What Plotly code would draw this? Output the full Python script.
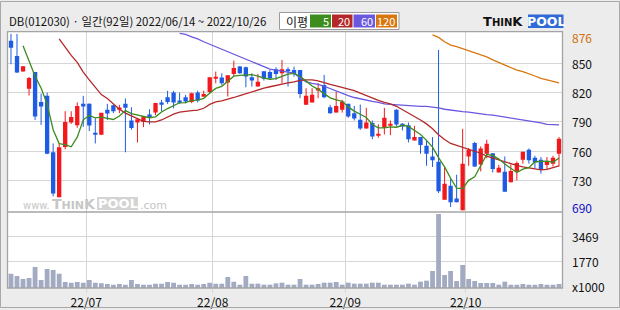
import pandas as pd
import plotly.graph_objects as go

# ---------------- data ----------------
title_text = "DB(012030) · 일간(92일) 2022/06/14 ~ 2022/10/26"
holidays = ["2022-08-15", "2022-09-09", "2022-09-12", "2022-10-03", "2022-10-10"]
dates = [d for d in pd.bdate_range("2022-06-14", "2022-10-26") if d.strftime("%Y-%m-%d") not in holidays]

open_ = [873, 857.5, 841.5, 824, 841, 810.5, 816.7, 759, 713, 764.3,
         789.4, 786.7, 808.5, 808.5, 779, 777, 802.4, 807, 803.4, 808.5,
         791.5, 789.4, 790, 797.6, 799.6, 810, 815.3, 820, 811.9, 815.3,
         810.5, 820, 816.7, 820.7, 835, 835.4, 830.3, 839, 846.6, 845.9,
         835.7, 826.2, 841.8, 841.1, 843.9, 839.8, 843.9, 843.2, 843.2, 807.5,
         809.9, 822.1, 827.9, 805.1, 799.6, 802.4, 808.5, 799, 792.2, 783.3,
         788.8, 775.8, 784, 786, 802.4, 788.1, 786.7, 771.1, 774.5, 765.6,
         754.7, 749.3, 710.5, 724.8, 711.6, 699.6, 754.7, 768.4, 746.6, 757.5,
         758.1, 738.4, 739.1, 728.2, 739.1, 751.3, 761.6, 753.4, 751.3, 745.9,
         747.3, 757.5]
high_ = [880, 880, 847, 836, 841, 819, 820, 768, 768, 801,
         801, 810, 816.7, 809, 794, 799.3, 808.5, 807.8, 807.5, 814,
         805, 792.8, 796, 803, 809.5, 812.6, 821.8, 821.8, 820, 817.7,
         820, 822, 822, 835.7, 841.5, 839.8, 837.7, 852.7, 847.3, 846.6,
         839.8, 839.1, 841.8, 843.2, 845.9, 853.4, 845.9, 846.6, 843.2, 824.5,
         824.5, 829.6, 838.1, 807.5, 821.1, 812.6, 808.5, 806.4, 807.8, 804.4,
         791.5, 787.7, 804.4, 791.5, 803, 788.8, 789.4, 786, 774.5, 771.8,
         774.5, 863.6, 743.9, 732.6, 736, 783, 763.3, 769.7, 765, 771.8,
         758.1, 746.2, 754.7, 746.6, 749.6, 759.5, 762.9, 755.4, 754.1, 754.1,
         755.4, 774.5]
low_ = [849, 840, 841.5, 817, 792, 787, 757, 714, 713, 762,
        788, 784, 785, 780.6, 768, 777, 792, 799, 799, 759,
        782, 769, 784.7, 787.4, 797, 800.7, 808.5, 804, 808.5, 809,
        809.2, 809.9, 816.7, 819.4, 829.6, 827.5, 816, 837, 839, 825.5,
        826.2, 826.2, 832.3, 833, 833, 829.6, 826.2, 836.4, 814.3, 807.5,
        809.9, 814.3, 814.3, 798.3, 799.6, 799.6, 794.2, 791.5, 782, 783.3,
        772.4, 773.8, 777.2, 776.5, 785.4, 781.3, 769, 771.1, 757.5, 745.2,
        743.9, 717.3, 710.5, 703, 707.8, 699.6, 745.2, 743.9, 739.4, 752.7,
        738.4, 738.4, 718.7, 728.2, 730.3, 747.3, 747.3, 742.5, 737.1, 741.1,
        744.5, 744.5]
close_ = [866, 840.5, 847, 835, 795.6, 805.8, 757.5, 716.7, 764, 790,
          795, 806.4, 805.8, 786.4, 777, 799.3, 798.6, 801, 804.7, 804.4,
          783.7, 792.8, 795.6, 795, 809.5, 808, 810.5, 809.9, 809.9, 810.9,
          819.4, 811.9, 818.7, 835.7, 836, 829.6, 837.7, 845.2, 839.8, 836.4,
          832.3, 831, 834.3, 834.7, 839.1, 843.9, 841.8, 839.1, 818.7, 816.7,
          817.7, 824.5, 815.3, 799, 806.4, 810.9, 795.6, 793.5, 783.3, 789.4,
          775.2, 777.9, 794.2, 788.1, 787.4, 785.4, 772.4, 774.5, 766.3, 757.5,
          750.7, 719, 726.9, 707.8, 707.8, 747.3, 761.6, 744.5, 762.9, 767.7,
          741.8, 743.2, 718.7, 739.8, 748, 759.5, 750.7, 748.6, 741.1, 750,
          753.4, 772.8]
volume_k = [973, 816, 612, 680, 1428, 544, 1292, 1224, 973, 408,
            363, 408, 363, 544, 363, 317, 272, 227, 272, 227,
            544, 272, 227, 227, 295, 295, 408, 363, 227, 227,
            272, 227, 272, 363, 295, 295, 748, 431, 227, 816,
            295, 295, 227, 227, 317, 363, 227, 227, 612, 227,
            227, 272, 363, 363, 408, 227, 363, 295, 295, 295,
            363, 363, 227, 227, 227, 227, 295, 227, 431, 499,
            1156, 5032, 884, 1156, 476, 1564, 612, 476, 340, 340,
            340, 227, 431, 227, 227, 272, 227, 227, 272, 227,
            227, 272]
ma5 = [None, None, 868, 852, 836.8, 824.8, 808.2, 782.1, 767.9, 766.8,
       764.6, 774.4, 792.2, 796.7, 794.1, 795.0, 793.4, 792.5, 796.1, 801.6,
       798.5, 797.3, 796.2, 794.3, 795.3, 800.2, 803.7, 806.6, 809.6, 809.8,
       812.1, 812.4, 814.2, 819.3, 824.3, 826.4, 831.5, 836.8, 837.7, 837.7,
       838.3, 836.9, 834.8, 833.7, 834.3, 836.6, 838.8, 839.7, 836.5, 832.0,
       826.8, 823.3, 818.6, 814.6, 812.6, 811.2, 805.4, 801.1, 797.9, 794.5,
       787.4, 783.9, 784.0, 785.0, 784.6, 786.6, 785.5, 781.6, 777.2, 771.2,
       764.3, 753.6, 744.1, 732.4, 722.4, 721.8, 730.3, 733.8, 744.8, 756.8,
       755.7, 752.0, 746.9, 742.2, 738.3, 741.8, 743.3, 749.3, 749.6, 750.0,
       748.8, 753.2]
ma20 = [None] * 8 + [
    875, 866, 858, 851, 841, 833, 825, 818, 814, 808,
    803, 799, 796, 793, 790.5, 790, 790, 792, 795, 798,
    800, 801, 801.5, 802, 804, 808, 810.5, 811.5, 813, 815,
    817, 819, 820.5, 822.5, 824.5, 826, 827.5, 828.5, 830, 831,
    832.5, 833, 833, 832, 830, 828.5, 827, 825.5, 824, 822,
    819.5, 817, 814, 812, 810, 808.5, 806, 802.5, 799, 796,
    792, 788, 783, 777, 772, 768, 766, 764, 762, 760,
    758, 755, 753, 751.5, 749.5, 747.5, 745.5, 744, 743, 742,
    741, 741.5, 743, 745]
ma60 = [None] * 28 + [
    880.5, 879.5, 877, 875, 872, 869.5, 866.5, 864.5, 862, 859.5,
    857, 854.5, 851.5, 849, 846.5, 844, 843, 842, 841, 840,
    835, 831, 829.5, 828.5, 826.5, 824, 821.5, 819, 817, 815,
    813.5, 812, 811, 810, 808.5, 808, 807.5, 807.5, 807, 806.5,
    806, 806, 805.5, 804.5, 803, 802, 801, 800.5, 800, 799,
    798, 797.5, 797, 796, 795, 794, 793, 792, 791, 790.5,
    789, 787.5, 787, 787]
ma120 = [None] * 70 + [
    879, 876.5, 872, 868.5, 867, 865, 863, 861, 859, 856.5,
    853.5, 851, 848, 846, 843, 841.5, 839.5, 837, 834.5, 833,
    831, 830]

price_ticks = [850, 820, 790, 760, 730]
price_max_label, price_min_label = "876", "690"
vol_ticks = [1770, 3469]
ma_names = ["5", "20", "60", "120"]

# ---------------- style ----------------
W, H = 620, 310
def px(x): return x / W
def py(y): return 1 - y / H

UP, DOWN = "#f2191c", "#1f5ce4"
MA_COLORS = ["#3c8c1e", "#b5282a", "#6a58e0", "#d9770f"]
GRID = "#d6d6d6"
FRAME = "#a4a4a4"
FONT = "Noto Sans CJK KR"

n = len(close_)
idx = list(range(n))
up = [c >= o for o, c in zip(open_, close_)]

# month boundaries
month_pos, month_lab = [], []
for i in range(1, n):
    if dates[i].month != dates[i - 1].month:
        month_pos.append(i - 0.5)
        month_lab.append(dates[i].strftime("%y/%m"))

fig = go.Figure()

# wicks
for flag, col in [(True, UP), (False, DOWN)]:
    xs, ys = [], []
    for i in idx:
        if up[i] == flag:
            xs += [i, i, None]
            ys += [low_[i], high_[i], None]
    fig.add_trace(go.Scatter(x=xs, y=ys, mode="lines", line=dict(color=col, width=1),
                             hoverinfo="skip", showlegend=False, xaxis="x", yaxis="y"))
# bodies
for flag, col in [(True, UP), (False, DOWN)]:
    xs = [i for i in idx if up[i] == flag]
    base = [min(open_[i], close_[i]) for i in xs]
    hgt = [max(abs(close_[i] - open_[i]), 1.1) for i in xs]
    fig.add_trace(go.Bar(x=xs, y=hgt, base=base, width=0.72, marker=dict(color=col, line=dict(width=0)),
                         showlegend=False, xaxis="x", yaxis="y"))

# moving averages
for ma, col in zip([ma120, ma60, ma20, ma5], MA_COLORS[::-1]):
    fig.add_trace(go.Scatter(x=idx, y=ma, mode="lines", line=dict(color=col, width=1.3),
                             connectgaps=False, showlegend=False, xaxis="x", yaxis="y"))

# volume
fig.add_trace(go.Bar(x=idx, y=volume_k, width=0.8, marker=dict(color="#a2abc2", line=dict(width=0)),
                     showlegend=False, xaxis="x2", yaxis="y2"))

xr = [-0.58, n - 1 + 0.58]
xdom = [px(7.5), px(562.5)]
fig.update_layout(
    width=W, height=H, margin=dict(l=0, r=0, t=0, b=0),
    paper_bgcolor="#ececec", plot_bgcolor="#ffffff",
    barmode="overlay", showlegend=False,
    font=dict(family=FONT, size=12, color="#111"),
    xaxis=dict(domain=xdom, range=xr, anchor="y", tickvals=month_pos, showticklabels=False,
               showgrid=True, gridcolor=GRID, gridwidth=1, zeroline=False, fixedrange=True),
    yaxis=dict(domain=[py(212), py(31.7)], range=[697.9, 882.3], tickvals=price_ticks,
               showticklabels=False, showgrid=True, gridcolor=GRID, zeroline=False),
    xaxis2=dict(domain=xdom, range=xr, anchor="y2", tickvals=month_pos, ticktext=month_lab,
                showgrid=True, gridcolor=GRID, zeroline=False, ticks="outside", ticklen=4,
                tickcolor=GRID, tickfont=dict(size=12, color="#111")),
    yaxis2=dict(domain=[py(288), py(212)], range=[0, 5168], tickvals=vol_ticks,
                showticklabels=False, showgrid=True, gridcolor=GRID, zeroline=False),
)

shapes = []
# outer border
shapes.append(dict(type="rect", xref="paper", yref="paper", x0=px(0.5), x1=px(619.5), y0=py(307.5), y1=py(1.5),
                   line=dict(color="#a8a8a8", width=1)))
# panel frames
shapes.append(dict(type="rect", xref="paper", yref="paper", x0=xdom[0], x1=xdom[1], y0=py(288), y1=py(31.7),
                   line=dict(color=FRAME, width=1.3)))
shapes.append(dict(type="line", xref="paper", yref="paper", x0=xdom[0], x1=xdom[1], y0=py(212), y1=py(212),
                   line=dict(color=FRAME, width=1.3)))
# legend box
shapes.append(dict(type="rect", xref="paper", yref="paper", x0=px(279.5), x1=px(399), y0=py(29.5), y1=py(12.5),
                   fillcolor="#ffffff", line=dict(color="#9a9a9a", width=1)))
box_x = [(310, 331), (332, 352.5), (353.5, 375), (376, 397)]
for (x0, x1), col in zip(box_x, MA_COLORS):
    shapes.append(dict(type="rect", xref="paper", yref="paper", x0=px(x0), x1=px(x1), y0=py(27.5), y1=py(14.5),
                       fillcolor=col, line=dict(width=0)))
# logo blue box
shapes.append(dict(type="rect", xref="paper", yref="paper", x0=px(528), x1=px(563.5), y0=py(28), y1=py(14.5),
                   fillcolor="#2f6ad6", line=dict(width=0)))
# watermark gray box
shapes.append(dict(type="rect", xref="paper", yref="paper", x0=px(97), x1=px(138), y0=py(210), y1=py(197),
                   fillcolor="#d4d4d4", line=dict(width=0), layer="below"))
fig.update_layout(shapes=shapes)

ann = []
ann.append(dict(text=title_text, x=px(7), y=py(20.5), xref="paper", yref="paper", xanchor="left", yanchor="middle",
                showarrow=False, font=dict(size=11.4, color="#111")))
ann.append(dict(text="이평", x=px(284), y=py(21), xref="paper", yref="paper", xanchor="left", yanchor="middle",
                showarrow=False, font=dict(size=12, color="#111")))
for (x0, x1), name in zip(box_x, ma_names):
    ann.append(dict(text=name, x=px(x1 - 0.5), y=py(21), xref="paper", yref="paper", xanchor="right",
                    yanchor="middle", showarrow=False, font=dict(size=11, color="#ffffff")))
# logo
ann.append(dict(text="<b>T<span style='font-size:10px'>HIN</span>K</b>", x=px(481), y=py(21.5), xref="paper",
                yref="paper", xanchor="left", yanchor="middle", showarrow=False,
                font=dict(family="DejaVu Sans", size=13, color="#111")))
ann.append(dict(text="<b>POOL</b>", x=px(545.5), y=py(21.5), xref="paper", yref="paper", xanchor="center",
                yanchor="middle", showarrow=False, font=dict(family="DejaVu Sans", size=12.5, color="#ffffff")))
# watermark
wm = "#c6c6c6"
ann.append(dict(text="www.", x=px(21), y=py(205), xref="paper", yref="paper", xanchor="left", yanchor="middle",
                showarrow=False, font=dict(family="DejaVu Sans", size=10, color=wm)))
ann.append(dict(text="<b>T<span style='font-size:11px'>HIN</span>K</b>", x=px(49.5), y=py(203.5), xref="paper",
                yref="paper", xanchor="left", yanchor="middle", showarrow=False,
                font=dict(family="DejaVu Sans", size=14, color=wm)))
ann.append(dict(text="<b>POOL</b>", x=px(117.5), y=py(203.5), xref="paper", yref="paper", xanchor="center",
                yanchor="middle", showarrow=False, font=dict(family="DejaVu Sans", size=13, color="#ffffff")))
ann.append(dict(text=".com", x=px(138), y=py(205), xref="paper", yref="paper", xanchor="left", yanchor="middle",
                showarrow=False, font=dict(family="DejaVu Sans", size=11, color=wm)))
# right axis labels
lx = px(570)
for v in price_ticks:
    ann.append(dict(text=str(v), x=lx, y=v, xref="paper", yref="y", xanchor="left", yanchor="middle",
                    showarrow=False, font=dict(size=12, color="#111")))
ann.append(dict(text=price_max_label, x=lx, y=float(price_max_label), xref="paper", yref="y", xanchor="left",
                yanchor="middle", showarrow=False, font=dict(size=12, color="#d2700c")))
ann.append(dict(text=price_min_label, x=lx, y=py(207), xref="paper", yref="paper", xanchor="left",
                yanchor="middle", showarrow=False, font=dict(size=12, color="#1010c8")))
for v in vol_ticks:
    ann.append(dict(text=str(v), x=lx, y=v, xref="paper", yref="y2", xanchor="left", yanchor="middle",
                    showarrow=False, font=dict(size=12, color="#111")))
ann.append(dict(text="x1000", x=lx, y=py(286), xref="paper", yref="paper", xanchor="left", yanchor="middle",
                showarrow=False, font=dict(size=12, color="#111")))
fig.update_layout(annotations=ann)

fig.write_html("out.html")
